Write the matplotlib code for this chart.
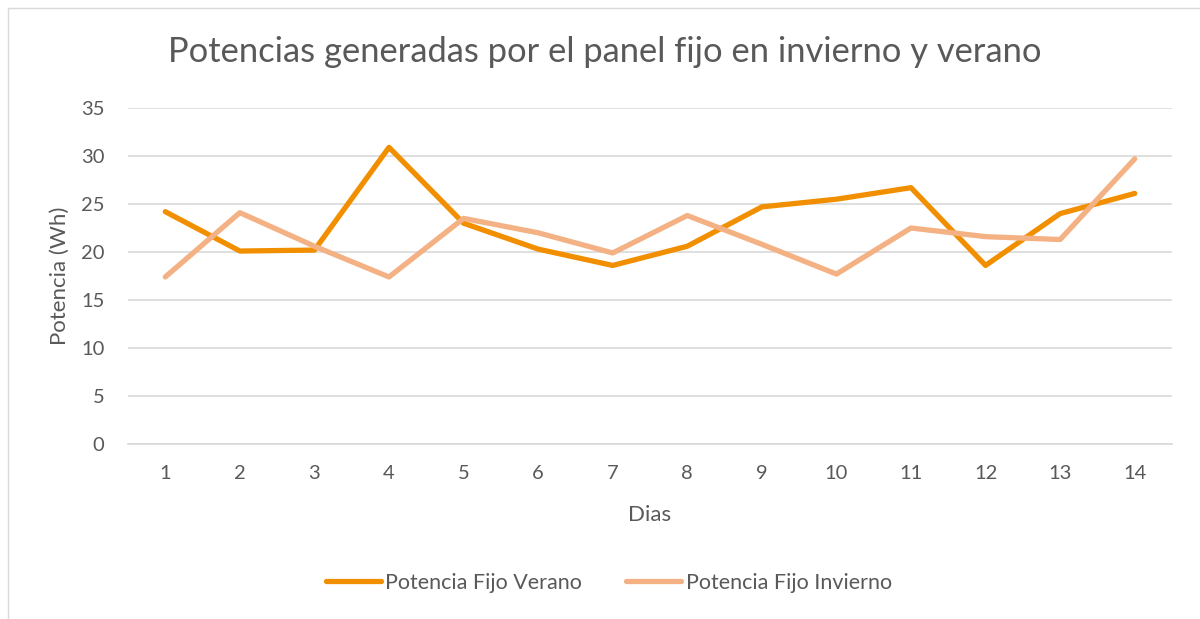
import matplotlib.pyplot as plt
from matplotlib.patches import Rectangle

dias = list(range(1, 15))
verano = [24.2, 20.1, 20.2, 30.9, 23.0, 20.3, 18.6, 20.6, 24.7, 25.5, 26.7, 18.6, 24.0, 26.1]
invierno = [17.4, 24.1, 20.6, 17.4, 23.5, 22.0, 19.9, 23.8, 20.8, 17.7, 22.5, 21.6, 21.3, 29.7]
yticks = [0, 5, 10, 15, 20, 25, 30, 35]

color_verano = '#F28F00'
color_invierno = '#F4B183'
gris = '#595959'

plt.rcParams['font.family'] = ['Lato', 'DejaVu Sans']

fig = plt.figure(figsize=(12, 6.19), dpi=100)
# marco del area del grafico
fig.patches.append(Rectangle((8 / 1200, -0.01), 1.0, 1 - 8 / 619 + 0.01,
                             transform=fig.transFigure, fill=False,
                             edgecolor='#d9d9d9', linewidth=1))

ax = fig.add_axes([128 / 1200, 1 - 444 / 619, (1172 - 128) / 1200, (444 - 108) / 619])

ax.plot(dias, verano, color=color_verano, lw=3.8, solid_capstyle='round',
        solid_joinstyle='round', label='Potencia Fijo Verano')
ax.plot(dias, invierno, color=color_invierno, lw=3.8, solid_capstyle='round',
        solid_joinstyle='round', label='Potencia Fijo Invierno')

ax.set_xlim(0.5, 14.5)
ax.set_ylim(0, 35)
ax.set_xticks(dias)
ax.set_yticks(yticks)
ax.grid(axis='y', color='#d9d9d9', linewidth=1.2)
ax.set_axisbelow(True)
for s in ['top', 'right', 'left']:
    ax.spines[s].set_visible(False)
ax.spines['bottom'].set_color('#d9d9d9')
ax.spines['bottom'].set_linewidth(1.2)
ax.tick_params(length=0, labelsize=14.5, labelcolor=gris)
ax.tick_params(axis='x', pad=15)
ax.tick_params(axis='y', pad=17)

ax.set_xlabel('Dias', fontsize=16, color=gris, labelpad=17)
ax.set_ylabel('Potencia (Wh)', fontsize=16, color=gris, labelpad=8)

fig.text(0.504, 1 - 52 / 619, 'Potencias generadas por el panel fijo en invierno y verano',
         ha='center', va='center', fontsize=24.8, color=gris)

leg = fig.legend(loc='center', bbox_to_anchor=(609 / 1200, 1 - 583 / 619), ncol=2,
                 frameon=False, fontsize=15.5, handlelength=2.55, handletextpad=0.2,
                 columnspacing=2.05)
for t in leg.get_texts():
    t.set_color(gris)

plt.savefig('out.png', dpi=100)
